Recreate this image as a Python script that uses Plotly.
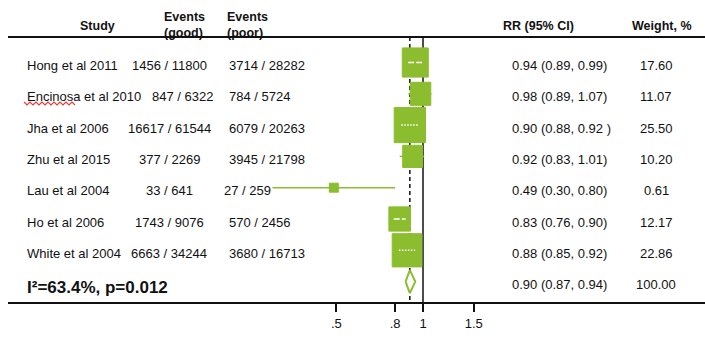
import math
import plotly.graph_objects as go

# ---- data -------------------------------------------------------------
studies = ["Hong et al 2011", "Encinosa et al 2010", "Jha et al 2006",
           "Zhu et al 2015", "Lau et al 2004", "Ho et al 2006", "White et al 2004"]
events_good = ["1456 / 11800", "847 / 6322", "16617 / 61544", "377 / 2269",
               "33 / 641", "1743 / 9076", "6663 / 34244"]
events_poor = ["3714 / 28282", "784 / 5724", "6079 / 20263", "3945 / 21798",
               "27 / 259", "570 / 2456", "3680 / 16713"]
rr = [0.94, 0.98, 0.90, 0.92, 0.49, 0.83, 0.88]
ci_low = [0.89, 0.89, 0.88, 0.83, 0.30, 0.76, 0.85]
ci_high = [0.99, 1.07, 0.92, 1.01, 0.80, 0.90, 0.92]
ci_text = ["0.94 (0.89, 0.99)", "0.98 (0.89, 1.07)", "0.90 (0.88, 0.92 )",
           "0.92 (0.83, 1.01)", "0.49 (0.30, 0.80)", "0.83 (0.76, 0.90)",
           "0.88 (0.85, 0.92)"]
weights = [17.60, 11.07, 25.50, 10.20, 0.61, 12.17, 22.86]

pooled_rr, pooled_low, pooled_high = 0.90, 0.87, 0.94
pooled_text = "0.90 (0.87, 0.94)"
pooled_weight = "100.00"
heterogeneity = "I²=63.4%, p=0.012"

tick_vals = [0.5, 0.8, 1, 1.5]
tick_text = [".5", ".8", "1", "1.5"]

# ---- geometry ---------------------------------------------------------
W, H = 705, 346
ML, MR, MT, MB = 8, 0, 37, 44
PW, PH = W - ML - MR, H - MT - MB
PX_PER_LN = 125.0            # pixels per natural-log unit on the RR axis
X_ONE_PX = 423               # pixel column of RR = 1
ROW_PX = 31.3                # pixels per table row
ROW1_PX = 62.5               # pixel row of the first study

ln10 = math.log(10)
x_range = [-(X_ONE_PX - ML) / (PX_PER_LN * ln10), (W - MR - X_ONE_PX) / (PX_PER_LN * ln10)]
y_top = 1 - (ROW1_PX - MT) / ROW_PX
y_bot = 1 + (H - MB - ROW1_PX) / ROW_PX

GREEN = "#8bbd2e"
INK = "#111111"
FONT = "Liberation Sans, Arial, sans-serif"


def px_x(px):
    return (px - ML) / PW


def px_y(py):
    return (H - MB - py) / PH


def shift(x, px):
    """Move an RR value by a number of screen pixels on the log axis."""
    return x * math.exp(px / PX_PER_LN)


fig = go.Figure()
n = len(studies)
pooled_row = n + 1

# reference lines: no effect (solid) and pooled estimate (dashed)
fig.add_trace(go.Scatter(x=[1, 1], y=[y_top, y_bot], mode="lines",
                         line=dict(color=INK, width=1.5), hoverinfo="skip"))
fig.add_trace(go.Scatter(x=[pooled_rr, pooled_rr], y=[y_top, y_bot], mode="lines",
                         line=dict(color=INK, width=1.5, dash="4px,3px"), hoverinfo="skip"))

# confidence-interval whiskers
wx, wy = [], []
for i in range(n):
    wx += [ci_low[i], ci_high[i], None]
    wy += [i + 1, i + 1, None]
fig.add_trace(go.Scatter(x=wx, y=wy, mode="lines", line=dict(color=GREEN, width=1.5),
                         hoverinfo="skip"))

# weight boxes (area proportional to study weight)
for i in range(n):
    row = i + 1
    wpx = max(6.2 * math.sqrt(weights[i]), 9)
    hpx = max(1.12 * 6.2 * math.sqrt(weights[i]), 9)
    x0, x1 = shift(rr[i], -wpx / 2), shift(rr[i], wpx / 2)
    y0, y1 = row - hpx / 2 / ROW_PX, row + hpx / 2 / ROW_PX
    fig.add_trace(go.Scatter(x=[x0, x1, x1, x0, x0], y=[y0, y0, y1, y1, y0],
                             mode="lines", fill="toself", fillcolor=GREEN,
                             line=dict(color=GREEN, width=1), hoverinfo="skip"))
    # interval hidden inside the box (within a pixel) is marked in white
    if ci_low[i] >= shift(x0, -1) and ci_high[i] <= shift(x1, 1):
        narrow = math.log(ci_high[i] / ci_low[i]) < 0.09
        fig.add_trace(go.Scatter(
            x=[shift(rr[i], -0.275 * wpx), shift(rr[i], 0.275 * wpx)], y=[row, row],
            mode="lines", hoverinfo="skip",
            line=dict(color="white", width=1.5,
                      dash="1.5px,1.5px" if narrow else "6px,2px")))

# pooled estimate diamond
dh = 11.5 / ROW_PX
fig.add_trace(go.Scatter(
    x=[pooled_low, pooled_rr, pooled_high, pooled_rr, pooled_low],
    y=[pooled_row, pooled_row - dh, pooled_row, pooled_row + dh, pooled_row],
    mode="lines", fill="toself", fillcolor="white",
    line=dict(color=GREEN, width=2), hoverinfo="skip"))

# ---- table text -------------------------------------------------------
ann = []
body = dict(family=FONT, size=13, color=INK)
head = dict(family=FONT, size=12.5, color=INK, weight="bold")

# per-row column nudges where neighbouring text would collide
good_col_px = {1: 182}
poor_col_px = {4: 222}


def cell(text, px, row, anchor, font=body, yshift=-3):
    ann.append(dict(text=text, x=px_x(px), xref="paper", y=row, yref="y",
                    xanchor=anchor, yanchor="middle", showarrow=False,
                    font=font, yshift=yshift))


for i in range(n):
    row = i + 1
    cell(studies[i], 25, row, "left")
    cell(events_good[i], good_col_px.get(i, 169), row, "center")
    cell(events_poor[i], poor_col_px.get(i, 227), row, "left")
    cell(ci_text[i], 510, row, "left")
    cell(f"{weights[i]:.2f}", 656, row, "center")

cell(heterogeneity, 25, pooled_row, "left",
     font=dict(family=FONT, size=17, color=INK, weight="bold"), yshift=-6)
cell(pooled_text, 510, pooled_row, "left")
cell(pooled_weight, 656, pooled_row, "center")

headers = [("Study", 97, "center", 26),
           ("Events<br>(good)", 162, "left", 25),
           ("Events<br>(poor)", 225, "left", 25),
           ("RR (95% CI)", 538.5, "center", 26),
           ("Weight, %", 661.5, "center", 26)]
for text, px, anchor, py in headers:
    ann.append(dict(text=text, x=px_x(px), xref="paper", y=px_y(py), yref="paper",
                    xanchor=anchor, yanchor="middle", align="left", showarrow=False,
                    font=head))

# ---- rules ------------------------------------------------------------
shapes = [dict(type="line", xref="paper", yref="paper", x0=0, x1=1, y0=1, y1=1,
               line=dict(color=INK, width=2))]

# red spell-check squiggle under "Encinosa"
sq_y = 103.5
pts = []
xp = 24.0
k = 0
while xp <= 77:
    pts.append((px_x(xp), px_y(sq_y + (1.5 if k % 2 else -1.5))))
    xp += 3
    k += 1
path = "M " + " L ".join(f"{a:.5f},{b:.5f}" for a, b in pts)
shapes.append(dict(type="path", xref="paper", yref="paper", path=path,
                   line=dict(color="#e8393a", width=1.2)))

fig.update_layout(
    width=W, height=H, autosize=False,
    margin=dict(l=ML, r=MR, t=MT, b=MB, pad=0),
    paper_bgcolor="white", plot_bgcolor="white",
    showlegend=False,
    annotations=ann, shapes=shapes,
    xaxis=dict(type="log", range=x_range, tickvals=tick_vals, ticktext=tick_text,
               showgrid=False, zeroline=False, showline=True, linecolor=INK,
               linewidth=2, ticks="outside", ticklen=8, tickwidth=1.5,
               tickcolor=INK, tickfont=dict(family=FONT, size=13, color=INK),
               fixedrange=True),
    yaxis=dict(range=[y_bot, y_top], visible=False, fixedrange=True),
)

fig.write_html("out.html")
